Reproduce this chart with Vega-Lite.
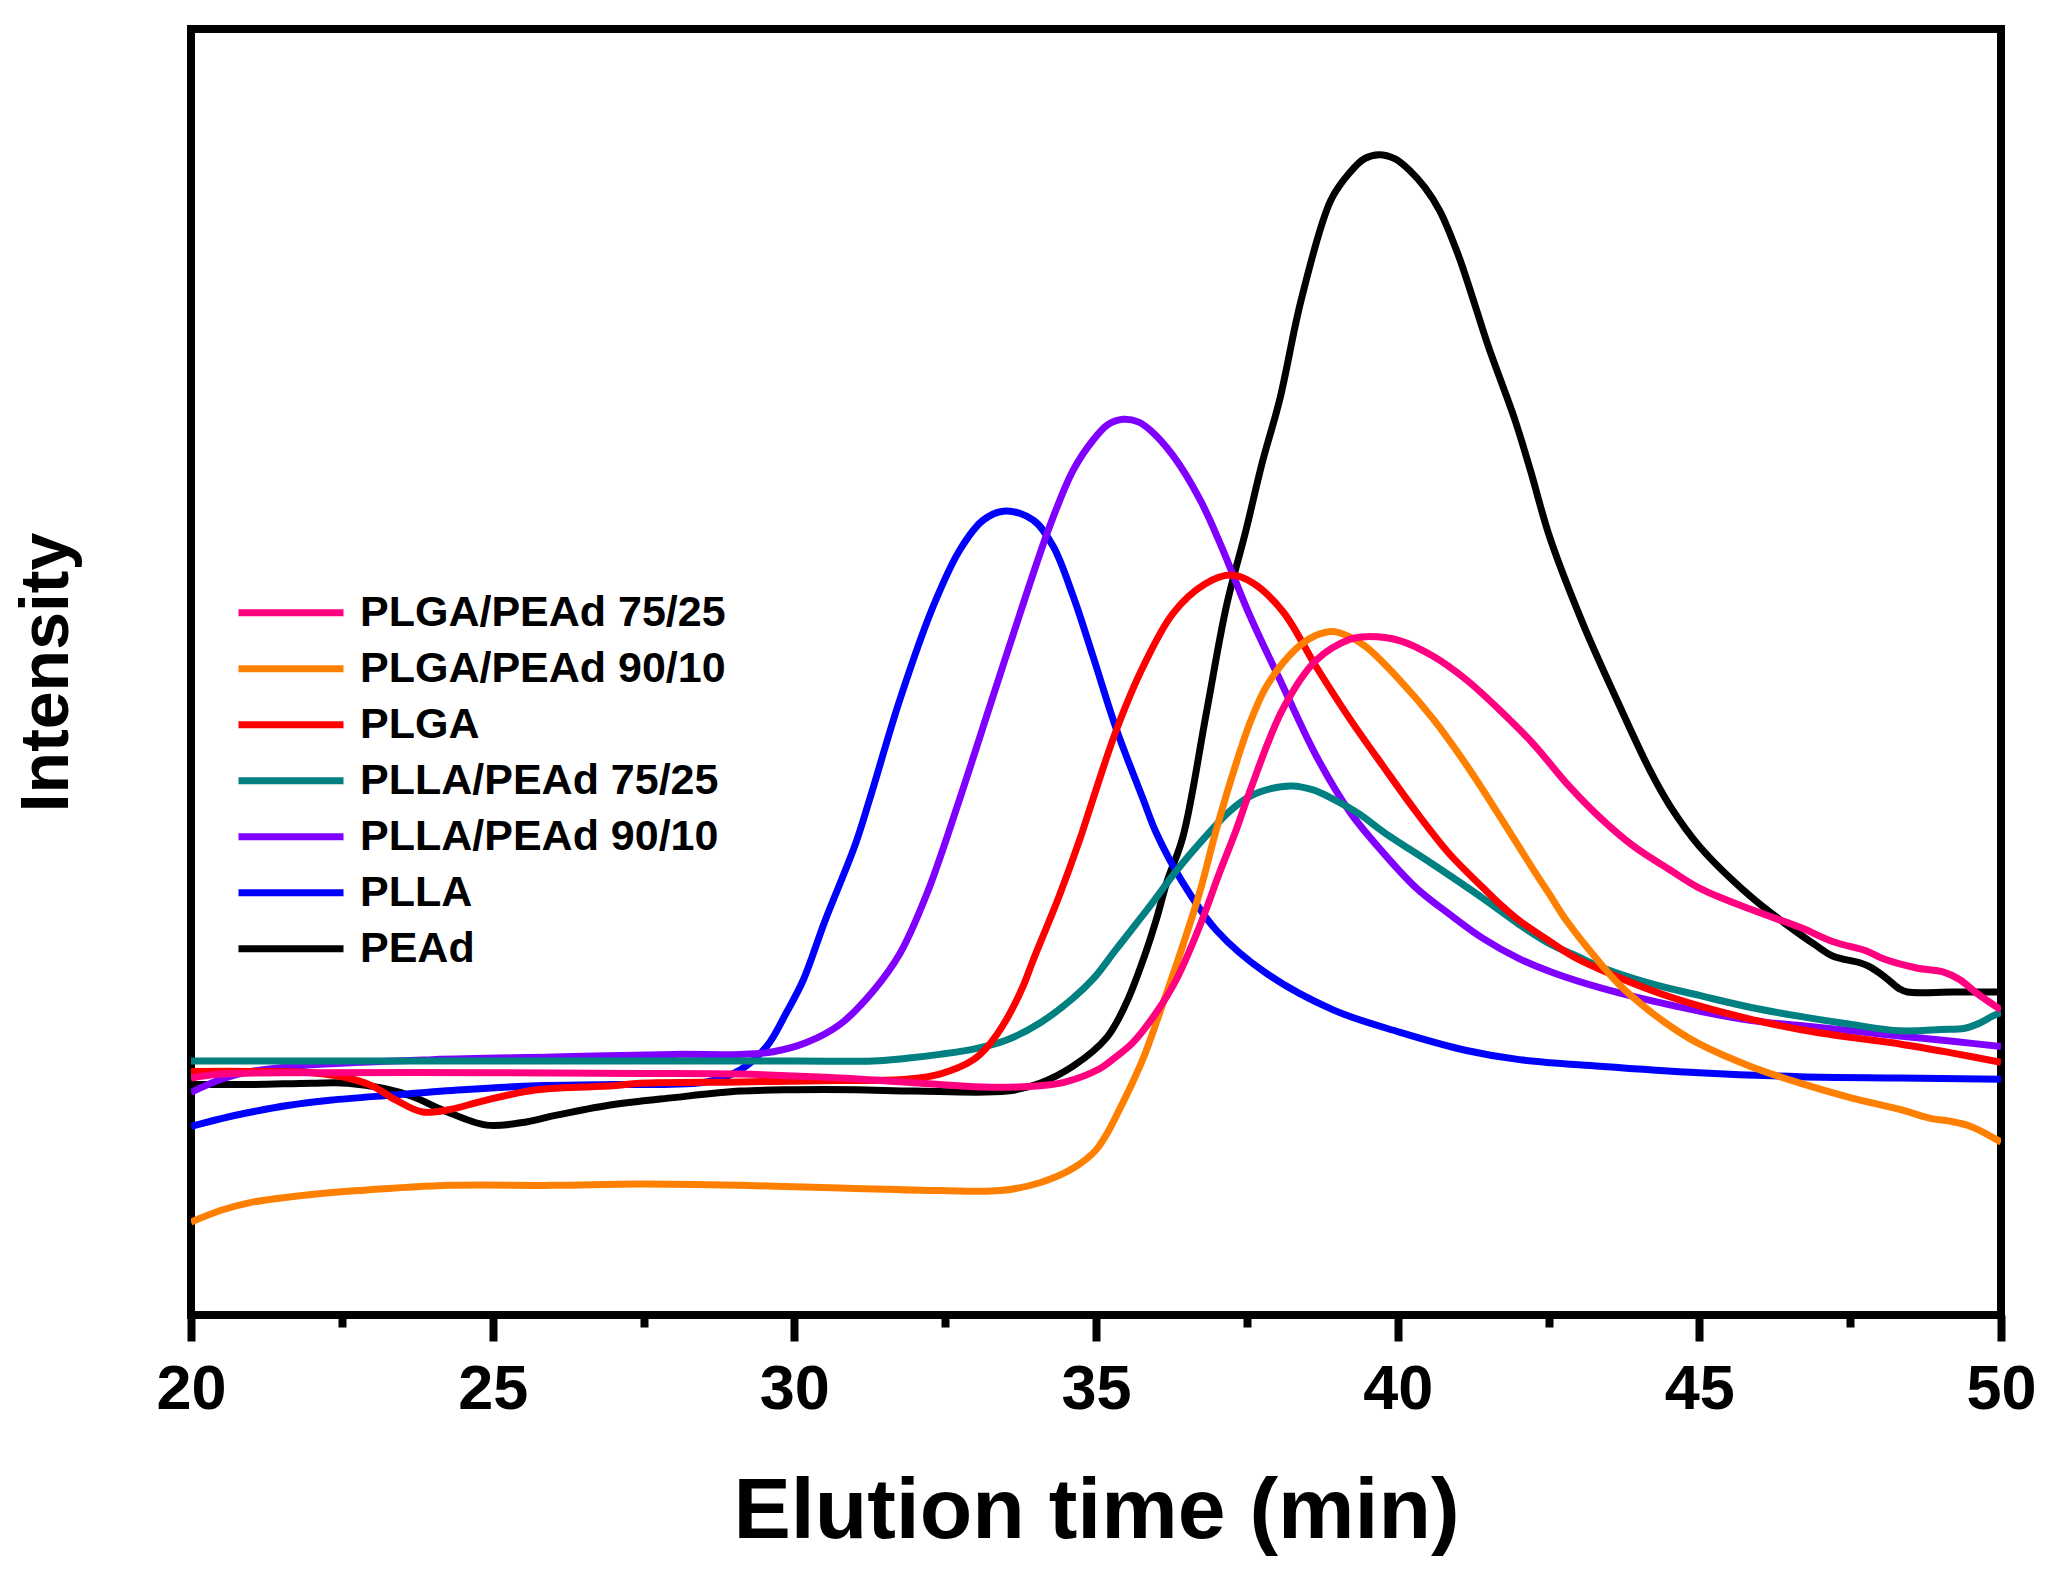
{
  "$schema": "https://vega.github.io/schema/vega-lite/v6.json",
  "autosize": {"type": "none"},
  "padding": {"left": 191, "top": 29, "right": 54, "bottom": 264},
  "width": 1810,
  "height": 1286,
  "background": "white",
  "data": {
    "values": [
      {"s": "PEAd", "t": 20, "v": 176}, {"s": "PEAd", "t": 21, "v": 176}, {"s": "PEAd", "t": 22, "v": 177}, {"s": "PEAd", "t": 22.6, "v": 177},
      {"s": "PEAd", "t": 23.2, "v": 173}, {"s": "PEAd", "t": 23.66, "v": 167}, {"s": "PEAd", "t": 24.2, "v": 156}, {"s": "PEAd", "t": 24.9, "v": 145},
      {"s": "PEAd", "t": 25.5, "v": 147}, {"s": "PEAd", "t": 26, "v": 152}, {"s": "PEAd", "t": 26.9, "v": 160}, {"s": "PEAd", "t": 28, "v": 166},
      {"s": "PEAd", "t": 29.1, "v": 171}, {"s": "PEAd", "t": 30, "v": 172}, {"s": "PEAd", "t": 31, "v": 172}, {"s": "PEAd", "t": 32, "v": 171},
      {"s": "PEAd", "t": 33.52, "v": 171}, {"s": "PEAd", "t": 34.07, "v": 177}, {"s": "PEAd", "t": 34.62, "v": 190}, {"s": "PEAd", "t": 35.18, "v": 212},
      {"s": "PEAd", "t": 35.5, "v": 238}, {"s": "PEAd", "t": 35.78, "v": 271}, {"s": "PEAd", "t": 36, "v": 302}, {"s": "PEAd", "t": 36.17, "v": 330},
      {"s": "PEAd", "t": 36.44, "v": 365}, {"s": "PEAd", "t": 36.83, "v": 460}, {"s": "PEAd", "t": 37.16, "v": 541}, {"s": "PEAd", "t": 37.49, "v": 600},
      {"s": "PEAd", "t": 37.75, "v": 650}, {"s": "PEAd", "t": 38.05, "v": 700}, {"s": "PEAd", "t": 38.4, "v": 775}, {"s": "PEAd", "t": 38.89, "v": 851},
      {"s": "PEAd", "t": 39.2, "v": 872}, {"s": "PEAd", "t": 39.45, "v": 883}, {"s": "PEAd", "t": 39.69, "v": 886}, {"s": "PEAd", "t": 39.95, "v": 883},
      {"s": "PEAd", "t": 40.2, "v": 874}, {"s": "PEAd", "t": 40.45, "v": 861}, {"s": "PEAd", "t": 40.7, "v": 843}, {"s": "PEAd", "t": 41, "v": 810},
      {"s": "PEAd", "t": 41.22, "v": 780}, {"s": "PEAd", "t": 41.5, "v": 740}, {"s": "PEAd", "t": 41.94, "v": 684}, {"s": "PEAd", "t": 42.2, "v": 645},
      {"s": "PEAd", "t": 42.52, "v": 594}, {"s": "PEAd", "t": 43.07, "v": 528}, {"s": "PEAd", "t": 43.63, "v": 470}, {"s": "PEAd", "t": 44.18, "v": 416},
      {"s": "PEAd", "t": 44.51, "v": 389}, {"s": "PEAd", "t": 45, "v": 358}, {"s": "PEAd", "t": 45.84, "v": 320}, {"s": "PEAd", "t": 46.39, "v": 300},
      {"s": "PEAd", "t": 46.94, "v": 282}, {"s": "PEAd", "t": 47.22, "v": 274}, {"s": "PEAd", "t": 47.66, "v": 269}, {"s": "PEAd", "t": 47.82, "v": 266},
      {"s": "PEAd", "t": 48.05, "v": 259}, {"s": "PEAd", "t": 48.32, "v": 249}, {"s": "PEAd", "t": 48.45, "v": 246.6}, {"s": "PEAd", "t": 49.2, "v": 246.6},
      {"s": "PEAd", "t": 50, "v": 246.6},

      {"s": "PLLA", "t": 20, "v": 144}, {"s": "PLLA", "t": 20.5, "v": 150}, {"s": "PLLA", "t": 21, "v": 155}, {"s": "PLLA", "t": 21.6, "v": 160},
      {"s": "PLLA", "t": 22.3, "v": 164}, {"s": "PLLA", "t": 23.36, "v": 168}, {"s": "PLLA", "t": 24.5, "v": 172}, {"s": "PLLA", "t": 25.73, "v": 175},
      {"s": "PLLA", "t": 27, "v": 176}, {"s": "PLLA", "t": 28.55, "v": 178}, {"s": "PLLA", "t": 29.1, "v": 187}, {"s": "PLLA", "t": 29.54, "v": 205},
      {"s": "PLLA", "t": 29.87, "v": 231}, {"s": "PLLA", "t": 30.15, "v": 256}, {"s": "PLLA", "t": 30.5, "v": 300}, {"s": "PLLA", "t": 31, "v": 358},
      {"s": "PLLA", "t": 31.25, "v": 394}, {"s": "PLLA", "t": 31.75, "v": 470}, {"s": "PLLA", "t": 32.3, "v": 541}, {"s": "PLLA", "t": 32.74, "v": 584},
      {"s": "PLLA", "t": 33.13, "v": 607}, {"s": "PLLA", "t": 33.5, "v": 614}, {"s": "PLLA", "t": 33.96, "v": 607}, {"s": "PLLA", "t": 34.29, "v": 587},
      {"s": "PLLA", "t": 34.62, "v": 549}, {"s": "PLLA", "t": 34.95, "v": 503}, {"s": "PLLA", "t": 35.34, "v": 447}, {"s": "PLLA", "t": 35.78, "v": 394},
      {"s": "PLLA", "t": 36, "v": 368}, {"s": "PLLA", "t": 36.44, "v": 330}, {"s": "PLLA", "t": 36.99, "v": 294}, {"s": "PLLA", "t": 37.82, "v": 261},
      {"s": "PLLA", "t": 38.93, "v": 233}, {"s": "PLLA", "t": 40.03, "v": 216}, {"s": "PLLA", "t": 41.14, "v": 202}, {"s": "PLLA", "t": 42.02, "v": 195},
      {"s": "PLLA", "t": 43.35, "v": 190}, {"s": "PLLA", "t": 45, "v": 185}, {"s": "PLLA", "t": 46.67, "v": 182}, {"s": "PLLA", "t": 48.32, "v": 181},
      {"s": "PLLA", "t": 50, "v": 180},

      {"s": "PLLA/PEAd 90/10", "t": 20, "v": 170}, {"s": "PLLA/PEAd 90/10", "t": 20.5, "v": 180}, {"s": "PLLA/PEAd 90/10", "t": 21, "v": 186},
      {"s": "PLLA/PEAd 90/10", "t": 22, "v": 191}, {"s": "PLLA/PEAd 90/10", "t": 24, "v": 195}, {"s": "PLLA/PEAd 90/10", "t": 26, "v": 197},
      {"s": "PLLA/PEAd 90/10", "t": 28, "v": 199}, {"s": "PLLA/PEAd 90/10", "t": 29.1, "v": 199}, {"s": "PLLA/PEAd 90/10", "t": 29.65, "v": 201},
      {"s": "PLLA/PEAd 90/10", "t": 30.2, "v": 208}, {"s": "PLLA/PEAd 90/10", "t": 30.76, "v": 222}, {"s": "PLLA/PEAd 90/10", "t": 31.3, "v": 247},
      {"s": "PLLA/PEAd 90/10", "t": 31.75, "v": 276}, {"s": "PLLA/PEAd 90/10", "t": 32.2, "v": 322}, {"s": "PLLA/PEAd 90/10", "t": 32.74, "v": 394},
      {"s": "PLLA/PEAd 90/10", "t": 33.29, "v": 472}, {"s": "PLLA/PEAd 90/10", "t": 33.85, "v": 551}, {"s": "PLLA/PEAd 90/10", "t": 34.23, "v": 602},
      {"s": "PLLA/PEAd 90/10", "t": 34.62, "v": 645}, {"s": "PLLA/PEAd 90/10", "t": 34.95, "v": 668}, {"s": "PLLA/PEAd 90/10", "t": 35.2, "v": 680},
      {"s": "PLLA/PEAd 90/10", "t": 35.45, "v": 684}, {"s": "PLLA/PEAd 90/10", "t": 35.7, "v": 682}, {"s": "PLLA/PEAd 90/10", "t": 35.89, "v": 676},
      {"s": "PLLA/PEAd 90/10", "t": 36.28, "v": 656}, {"s": "PLLA/PEAd 90/10", "t": 36.72, "v": 623}, {"s": "PLLA/PEAd 90/10", "t": 37.05, "v": 590},
      {"s": "PLLA/PEAd 90/10", "t": 37.55, "v": 534}, {"s": "PLLA/PEAd 90/10", "t": 38.1, "v": 480}, {"s": "PLLA/PEAd 90/10", "t": 38.65, "v": 427},
      {"s": "PLLA/PEAd 90/10", "t": 39.21, "v": 384}, {"s": "PLLA/PEAd 90/10", "t": 39.76, "v": 353}, {"s": "PLLA/PEAd 90/10", "t": 40.31, "v": 326},
      {"s": "PLLA/PEAd 90/10", "t": 40.86, "v": 306}, {"s": "PLLA/PEAd 90/10", "t": 41.4, "v": 288}, {"s": "PLLA/PEAd 90/10", "t": 42.02, "v": 272},
      {"s": "PLLA/PEAd 90/10", "t": 42.6, "v": 261}, {"s": "PLLA/PEAd 90/10", "t": 43.35, "v": 250}, {"s": "PLLA/PEAd 90/10", "t": 44.2, "v": 240},
      {"s": "PLLA/PEAd 90/10", "t": 45, "v": 232}, {"s": "PLLA/PEAd 90/10", "t": 45.84, "v": 225}, {"s": "PLLA/PEAd 90/10", "t": 46.67, "v": 221},
      {"s": "PLLA/PEAd 90/10", "t": 47.5, "v": 217}, {"s": "PLLA/PEAd 90/10", "t": 48.32, "v": 213}, {"s": "PLLA/PEAd 90/10", "t": 49.2, "v": 209},
      {"s": "PLLA/PEAd 90/10", "t": 50, "v": 205},

      {"s": "PLLA/PEAd 75/25", "t": 20, "v": 194}, {"s": "PLLA/PEAd 75/25", "t": 25, "v": 194}, {"s": "PLLA/PEAd 75/25", "t": 30, "v": 194},
      {"s": "PLLA/PEAd 75/25", "t": 31.3, "v": 194}, {"s": "PLLA/PEAd 75/25", "t": 31.86, "v": 196}, {"s": "PLLA/PEAd 75/25", "t": 32.41, "v": 199},
      {"s": "PLLA/PEAd 75/25", "t": 32.97, "v": 203}, {"s": "PLLA/PEAd 75/25", "t": 33.52, "v": 210}, {"s": "PLLA/PEAd 75/25", "t": 34.07, "v": 223},
      {"s": "PLLA/PEAd 75/25", "t": 34.62, "v": 242}, {"s": "PLLA/PEAd 75/25", "t": 34.96, "v": 257}, {"s": "PLLA/PEAd 75/25", "t": 35.33, "v": 279},
      {"s": "PLLA/PEAd 75/25", "t": 35.89, "v": 312}, {"s": "PLLA/PEAd 75/25", "t": 36.33, "v": 339}, {"s": "PLLA/PEAd 75/25", "t": 36.83, "v": 366},
      {"s": "PLLA/PEAd 75/25", "t": 37.2, "v": 384}, {"s": "PLLA/PEAd 75/25", "t": 37.55, "v": 396}, {"s": "PLLA/PEAd 75/25", "t": 37.9, "v": 402},
      {"s": "PLLA/PEAd 75/25", "t": 38.24, "v": 404}, {"s": "PLLA/PEAd 75/25", "t": 38.6, "v": 401}, {"s": "PLLA/PEAd 75/25", "t": 38.93, "v": 394},
      {"s": "PLLA/PEAd 75/25", "t": 39.35, "v": 383}, {"s": "PLLA/PEAd 75/25", "t": 39.76, "v": 369}, {"s": "PLLA/PEAd 75/25", "t": 40.59, "v": 344},
      {"s": "PLLA/PEAd 75/25", "t": 41.42, "v": 318}, {"s": "PLLA/PEAd 75/25", "t": 42.02, "v": 298}, {"s": "PLLA/PEAd 75/25", "t": 42.5, "v": 284},
      {"s": "PLLA/PEAd 75/25", "t": 43.02, "v": 273}, {"s": "PLLA/PEAd 75/25", "t": 43.35, "v": 266}, {"s": "PLLA/PEAd 75/25", "t": 44.2, "v": 253},
      {"s": "PLLA/PEAd 75/25", "t": 45, "v": 244}, {"s": "PLLA/PEAd 75/25", "t": 45.84, "v": 235}, {"s": "PLLA/PEAd 75/25", "t": 46.67, "v": 228},
      {"s": "PLLA/PEAd 75/25", "t": 47.5, "v": 222}, {"s": "PLLA/PEAd 75/25", "t": 48.32, "v": 217}, {"s": "PLLA/PEAd 75/25", "t": 49, "v": 218},
      {"s": "PLLA/PEAd 75/25", "t": 49.4, "v": 219}, {"s": "PLLA/PEAd 75/25", "t": 49.65, "v": 223}, {"s": "PLLA/PEAd 75/25", "t": 49.85, "v": 228},
      {"s": "PLLA/PEAd 75/25", "t": 50, "v": 231},

      {"s": "PLGA", "t": 20, "v": 186}, {"s": "PLGA", "t": 21, "v": 186}, {"s": "PLGA", "t": 22, "v": 185}, {"s": "PLGA", "t": 22.6, "v": 181},
      {"s": "PLGA", "t": 23, "v": 175}, {"s": "PLGA", "t": 23.4, "v": 164}, {"s": "PLGA", "t": 23.84, "v": 155}, {"s": "PLGA", "t": 24.3, "v": 157},
      {"s": "PLGA", "t": 24.8, "v": 163}, {"s": "PLGA", "t": 25.73, "v": 172}, {"s": "PLGA", "t": 27, "v": 175}, {"s": "PLGA", "t": 27.44, "v": 177},
      {"s": "PLGA", "t": 29.1, "v": 178}, {"s": "PLGA", "t": 30.76, "v": 179}, {"s": "PLGA", "t": 31.86, "v": 180}, {"s": "PLGA", "t": 32.41, "v": 184},
      {"s": "PLGA", "t": 32.97, "v": 195}, {"s": "PLGA", "t": 33.24, "v": 207}, {"s": "PLGA", "t": 33.52, "v": 226}, {"s": "PLGA", "t": 33.8, "v": 252},
      {"s": "PLGA", "t": 33.95, "v": 270}, {"s": "PLGA", "t": 34.39, "v": 320}, {"s": "PLGA", "t": 34.73, "v": 363}, {"s": "PLGA", "t": 34.95, "v": 394},
      {"s": "PLGA", "t": 35.34, "v": 447}, {"s": "PLGA", "t": 35.78, "v": 495}, {"s": "PLGA", "t": 36.28, "v": 536}, {"s": "PLGA", "t": 36.8, "v": 558},
      {"s": "PLGA", "t": 37.22, "v": 565}, {"s": "PLGA", "t": 37.6, "v": 559}, {"s": "PLGA", "t": 38.1, "v": 537}, {"s": "PLGA", "t": 38.65, "v": 495},
      {"s": "PLGA", "t": 39.21, "v": 455}, {"s": "PLGA", "t": 39.76, "v": 419}, {"s": "PLGA", "t": 40.31, "v": 384}, {"s": "PLGA", "t": 40.86, "v": 352},
      {"s": "PLGA", "t": 41.42, "v": 326}, {"s": "PLGA", "t": 41.69, "v": 314}, {"s": "PLGA", "t": 42.02, "v": 301}, {"s": "PLGA", "t": 42.5, "v": 286},
      {"s": "PLGA", "t": 42.9, "v": 274}, {"s": "PLGA", "t": 43.35, "v": 264}, {"s": "PLGA", "t": 44.2, "v": 248}, {"s": "PLGA", "t": 45, "v": 236},
      {"s": "PLGA", "t": 45.84, "v": 226}, {"s": "PLGA", "t": 46.67, "v": 218}, {"s": "PLGA", "t": 47.5, "v": 212}, {"s": "PLGA", "t": 48.32, "v": 207},
      {"s": "PLGA", "t": 49.2, "v": 200}, {"s": "PLGA", "t": 50, "v": 193},

      {"s": "PLGA/PEAd 90/10", "t": 20, "v": 71}, {"s": "PLGA/PEAd 90/10", "t": 20.5, "v": 80}, {"s": "PLGA/PEAd 90/10", "t": 21, "v": 86},
      {"s": "PLGA/PEAd 90/10", "t": 22, "v": 92}, {"s": "PLGA/PEAd 90/10", "t": 22.77, "v": 95}, {"s": "PLGA/PEAd 90/10", "t": 24.3, "v": 99},
      {"s": "PLGA/PEAd 90/10", "t": 26, "v": 99}, {"s": "PLGA/PEAd 90/10", "t": 27.44, "v": 100}, {"s": "PLGA/PEAd 90/10", "t": 29.1, "v": 99},
      {"s": "PLGA/PEAd 90/10", "t": 30.76, "v": 97}, {"s": "PLGA/PEAd 90/10", "t": 32.41, "v": 95}, {"s": "PLGA/PEAd 90/10", "t": 33.41, "v": 95},
      {"s": "PLGA/PEAd 90/10", "t": 34.07, "v": 101}, {"s": "PLGA/PEAd 90/10", "t": 34.62, "v": 112}, {"s": "PLGA/PEAd 90/10", "t": 35, "v": 126},
      {"s": "PLGA/PEAd 90/10", "t": 35.2, "v": 140}, {"s": "PLGA/PEAd 90/10", "t": 35.4, "v": 158}, {"s": "PLGA/PEAd 90/10", "t": 35.6, "v": 177},
      {"s": "PLGA/PEAd 90/10", "t": 35.8, "v": 198}, {"s": "PLGA/PEAd 90/10", "t": 36.05, "v": 230}, {"s": "PLGA/PEAd 90/10", "t": 36.38, "v": 274},
      {"s": "PLGA/PEAd 90/10", "t": 36.72, "v": 323}, {"s": "PLGA/PEAd 90/10", "t": 36.99, "v": 370}, {"s": "PLGA/PEAd 90/10", "t": 37.3, "v": 418},
      {"s": "PLGA/PEAd 90/10", "t": 37.55, "v": 452}, {"s": "PLGA/PEAd 90/10", "t": 37.8, "v": 478}, {"s": "PLGA/PEAd 90/10", "t": 38.1, "v": 498},
      {"s": "PLGA/PEAd 90/10", "t": 38.4, "v": 512}, {"s": "PLGA/PEAd 90/10", "t": 38.65, "v": 519}, {"s": "PLGA/PEAd 90/10", "t": 38.92, "v": 522},
      {"s": "PLGA/PEAd 90/10", "t": 39.2, "v": 518}, {"s": "PLGA/PEAd 90/10", "t": 39.48, "v": 510}, {"s": "PLGA/PEAd 90/10", "t": 40.03, "v": 485},
      {"s": "PLGA/PEAd 90/10", "t": 40.59, "v": 455}, {"s": "PLGA/PEAd 90/10", "t": 41.14, "v": 420}, {"s": "PLGA/PEAd 90/10", "t": 41.69, "v": 381},
      {"s": "PLGA/PEAd 90/10", "t": 42.25, "v": 340}, {"s": "PLGA/PEAd 90/10", "t": 42.52, "v": 321}, {"s": "PLGA/PEAd 90/10", "t": 42.8, "v": 301},
      {"s": "PLGA/PEAd 90/10", "t": 43.35, "v": 269}, {"s": "PLGA/PEAd 90/10", "t": 43.7, "v": 251}, {"s": "PLGA/PEAd 90/10", "t": 44.18, "v": 232},
      {"s": "PLGA/PEAd 90/10", "t": 44.6, "v": 218}, {"s": "PLGA/PEAd 90/10", "t": 45, "v": 207}, {"s": "PLGA/PEAd 90/10", "t": 45.84, "v": 190},
      {"s": "PLGA/PEAd 90/10", "t": 46.67, "v": 177}, {"s": "PLGA/PEAd 90/10", "t": 47.5, "v": 166}, {"s": "PLGA/PEAd 90/10", "t": 48.32, "v": 157},
      {"s": "PLGA/PEAd 90/10", "t": 48.85, "v": 150}, {"s": "PLGA/PEAd 90/10", "t": 49.15, "v": 148}, {"s": "PLGA/PEAd 90/10", "t": 49.5, "v": 144},
      {"s": "PLGA/PEAd 90/10", "t": 50, "v": 132},

      {"s": "PLGA/PEAd 75/25", "t": 20, "v": 181}, {"s": "PLGA/PEAd 75/25", "t": 20.5, "v": 184}, {"s": "PLGA/PEAd 75/25", "t": 22, "v": 185},
      {"s": "PLGA/PEAd 75/25", "t": 25, "v": 185}, {"s": "PLGA/PEAd 75/25", "t": 27.44, "v": 184.5}, {"s": "PLGA/PEAd 75/25", "t": 29.1, "v": 184},
      {"s": "PLGA/PEAd 75/25", "t": 30.76, "v": 181}, {"s": "PLGA/PEAd 75/25", "t": 32.41, "v": 176}, {"s": "PLGA/PEAd 75/25", "t": 33.24, "v": 174},
      {"s": "PLGA/PEAd 75/25", "t": 34.07, "v": 175}, {"s": "PLGA/PEAd 75/25", "t": 34.5, "v": 178}, {"s": "PLGA/PEAd 75/25", "t": 35.06, "v": 188},
      {"s": "PLGA/PEAd 75/25", "t": 35.3, "v": 196}, {"s": "PLGA/PEAd 75/25", "t": 35.61, "v": 208}, {"s": "PLGA/PEAd 75/25", "t": 36, "v": 231},
      {"s": "PLGA/PEAd 75/25", "t": 36.33, "v": 256}, {"s": "PLGA/PEAd 75/25", "t": 36.72, "v": 297}, {"s": "PLGA/PEAd 75/25", "t": 37.05, "v": 338},
      {"s": "PLGA/PEAd 75/25", "t": 37.32, "v": 370}, {"s": "PLGA/PEAd 75/25", "t": 37.55, "v": 400}, {"s": "PLGA/PEAd 75/25", "t": 38.1, "v": 463},
      {"s": "PLGA/PEAd 75/25", "t": 38.65, "v": 500}, {"s": "PLGA/PEAd 75/25", "t": 39.21, "v": 516}, {"s": "PLGA/PEAd 75/25", "t": 39.48, "v": 518},
      {"s": "PLGA/PEAd 75/25", "t": 40.03, "v": 515}, {"s": "PLGA/PEAd 75/25", "t": 40.59, "v": 503}, {"s": "PLGA/PEAd 75/25", "t": 41.14, "v": 485},
      {"s": "PLGA/PEAd 75/25", "t": 41.69, "v": 462}, {"s": "PLGA/PEAd 75/25", "t": 42.25, "v": 436}, {"s": "PLGA/PEAd 75/25", "t": 42.8, "v": 406},
      {"s": "PLGA/PEAd 75/25", "t": 43.35, "v": 380}, {"s": "PLGA/PEAd 75/25", "t": 43.91, "v": 358}, {"s": "PLGA/PEAd 75/25", "t": 44.51, "v": 340},
      {"s": "PLGA/PEAd 75/25", "t": 45, "v": 326}, {"s": "PLGA/PEAd 75/25", "t": 45.84, "v": 310}, {"s": "PLGA/PEAd 75/25", "t": 46.67, "v": 296},
      {"s": "PLGA/PEAd 75/25", "t": 47.22, "v": 285}, {"s": "PLGA/PEAd 75/25", "t": 47.77, "v": 278}, {"s": "PLGA/PEAd 75/25", "t": 48.05, "v": 272},
      {"s": "PLGA/PEAd 75/25", "t": 48.6, "v": 265}, {"s": "PLGA/PEAd 75/25", "t": 49.04, "v": 262}, {"s": "PLGA/PEAd 75/25", "t": 49.32, "v": 256},
      {"s": "PLGA/PEAd 75/25", "t": 49.59, "v": 246}, {"s": "PLGA/PEAd 75/25", "t": 50, "v": 233}
    ]
  },
  "mark": {"type": "line", "strokeWidth": 7, "interpolate": "catmull-rom", "clip": true},
  "encoding": {
    "x": {
      "field": "t",
      "type": "quantitative",
      "scale": {"domain": [20, 50], "nice": false},
      "axis": {
        "title": "Elution time (min)",
        "values": [20, 22.5, 25, 27.5, 30, 32.5, 35, 37.5, 40, 42.5, 45, 47.5, 50],
        "labelExpr": "datum.value % 5 === 0 ? datum.label : ''",
        "tickSize": {"condition": {"test": "datum.value % 5 === 0", "value": 26}, "value": 12},
        "tickWidth": 8,
        "tickColor": "black",
        "domain": false,
        "grid": false,
        "labelFontSize": 63,
        "labelFontWeight": "bold",
        "labelColor": "black",
        "labelPadding": 17,
        "labelFlush": false,
        "titleFontSize": 86,
        "titleFontWeight": "bold",
        "titleColor": "black",
        "titlePadding": 48
      }
    },
    "y": {
      "field": "v",
      "type": "quantitative",
      "scale": {"domain": [0, 982], "nice": false},
      "axis": {
        "title": "Intensity",
        "labels": false,
        "ticks": false,
        "domain": false,
        "grid": false,
        "titleFontSize": 68,
        "titleFontWeight": "bold",
        "titleColor": "black",
        "titlePadding": 110
      }
    },
    "color": {
      "field": "s",
      "type": "nominal",
      "scale": {
        "domain": ["PLGA/PEAd 75/25", "PLGA/PEAd 90/10", "PLGA", "PLLA/PEAd 75/25", "PLLA/PEAd 90/10", "PLLA", "PEAd"],
        "range": ["#ff0080", "#ff8000", "#ff0000", "#008080", "#8000ff", "#0000ff", "#000000"]
      },
      "legend": {
        "title": null,
        "orient": "none",
        "legendX": 44,
        "legendY": 556,
        "padding": 0,
        "rowPadding": 0,
        "clipHeight": 55.5,
        "symbolType": "stroke",
        "symbolSize": 11025,
        "symbolStrokeWidth": 7,
        "labelOffset": 13,
        "labelFontSize": 43,
        "labelFontWeight": "bold",
        "labelColor": "black",
        "labelLimit": 700
      }
    }
  },
  "config": {
    "font": "Liberation Sans",
    "view": {"stroke": "black", "strokeWidth": 8}
  }
}
